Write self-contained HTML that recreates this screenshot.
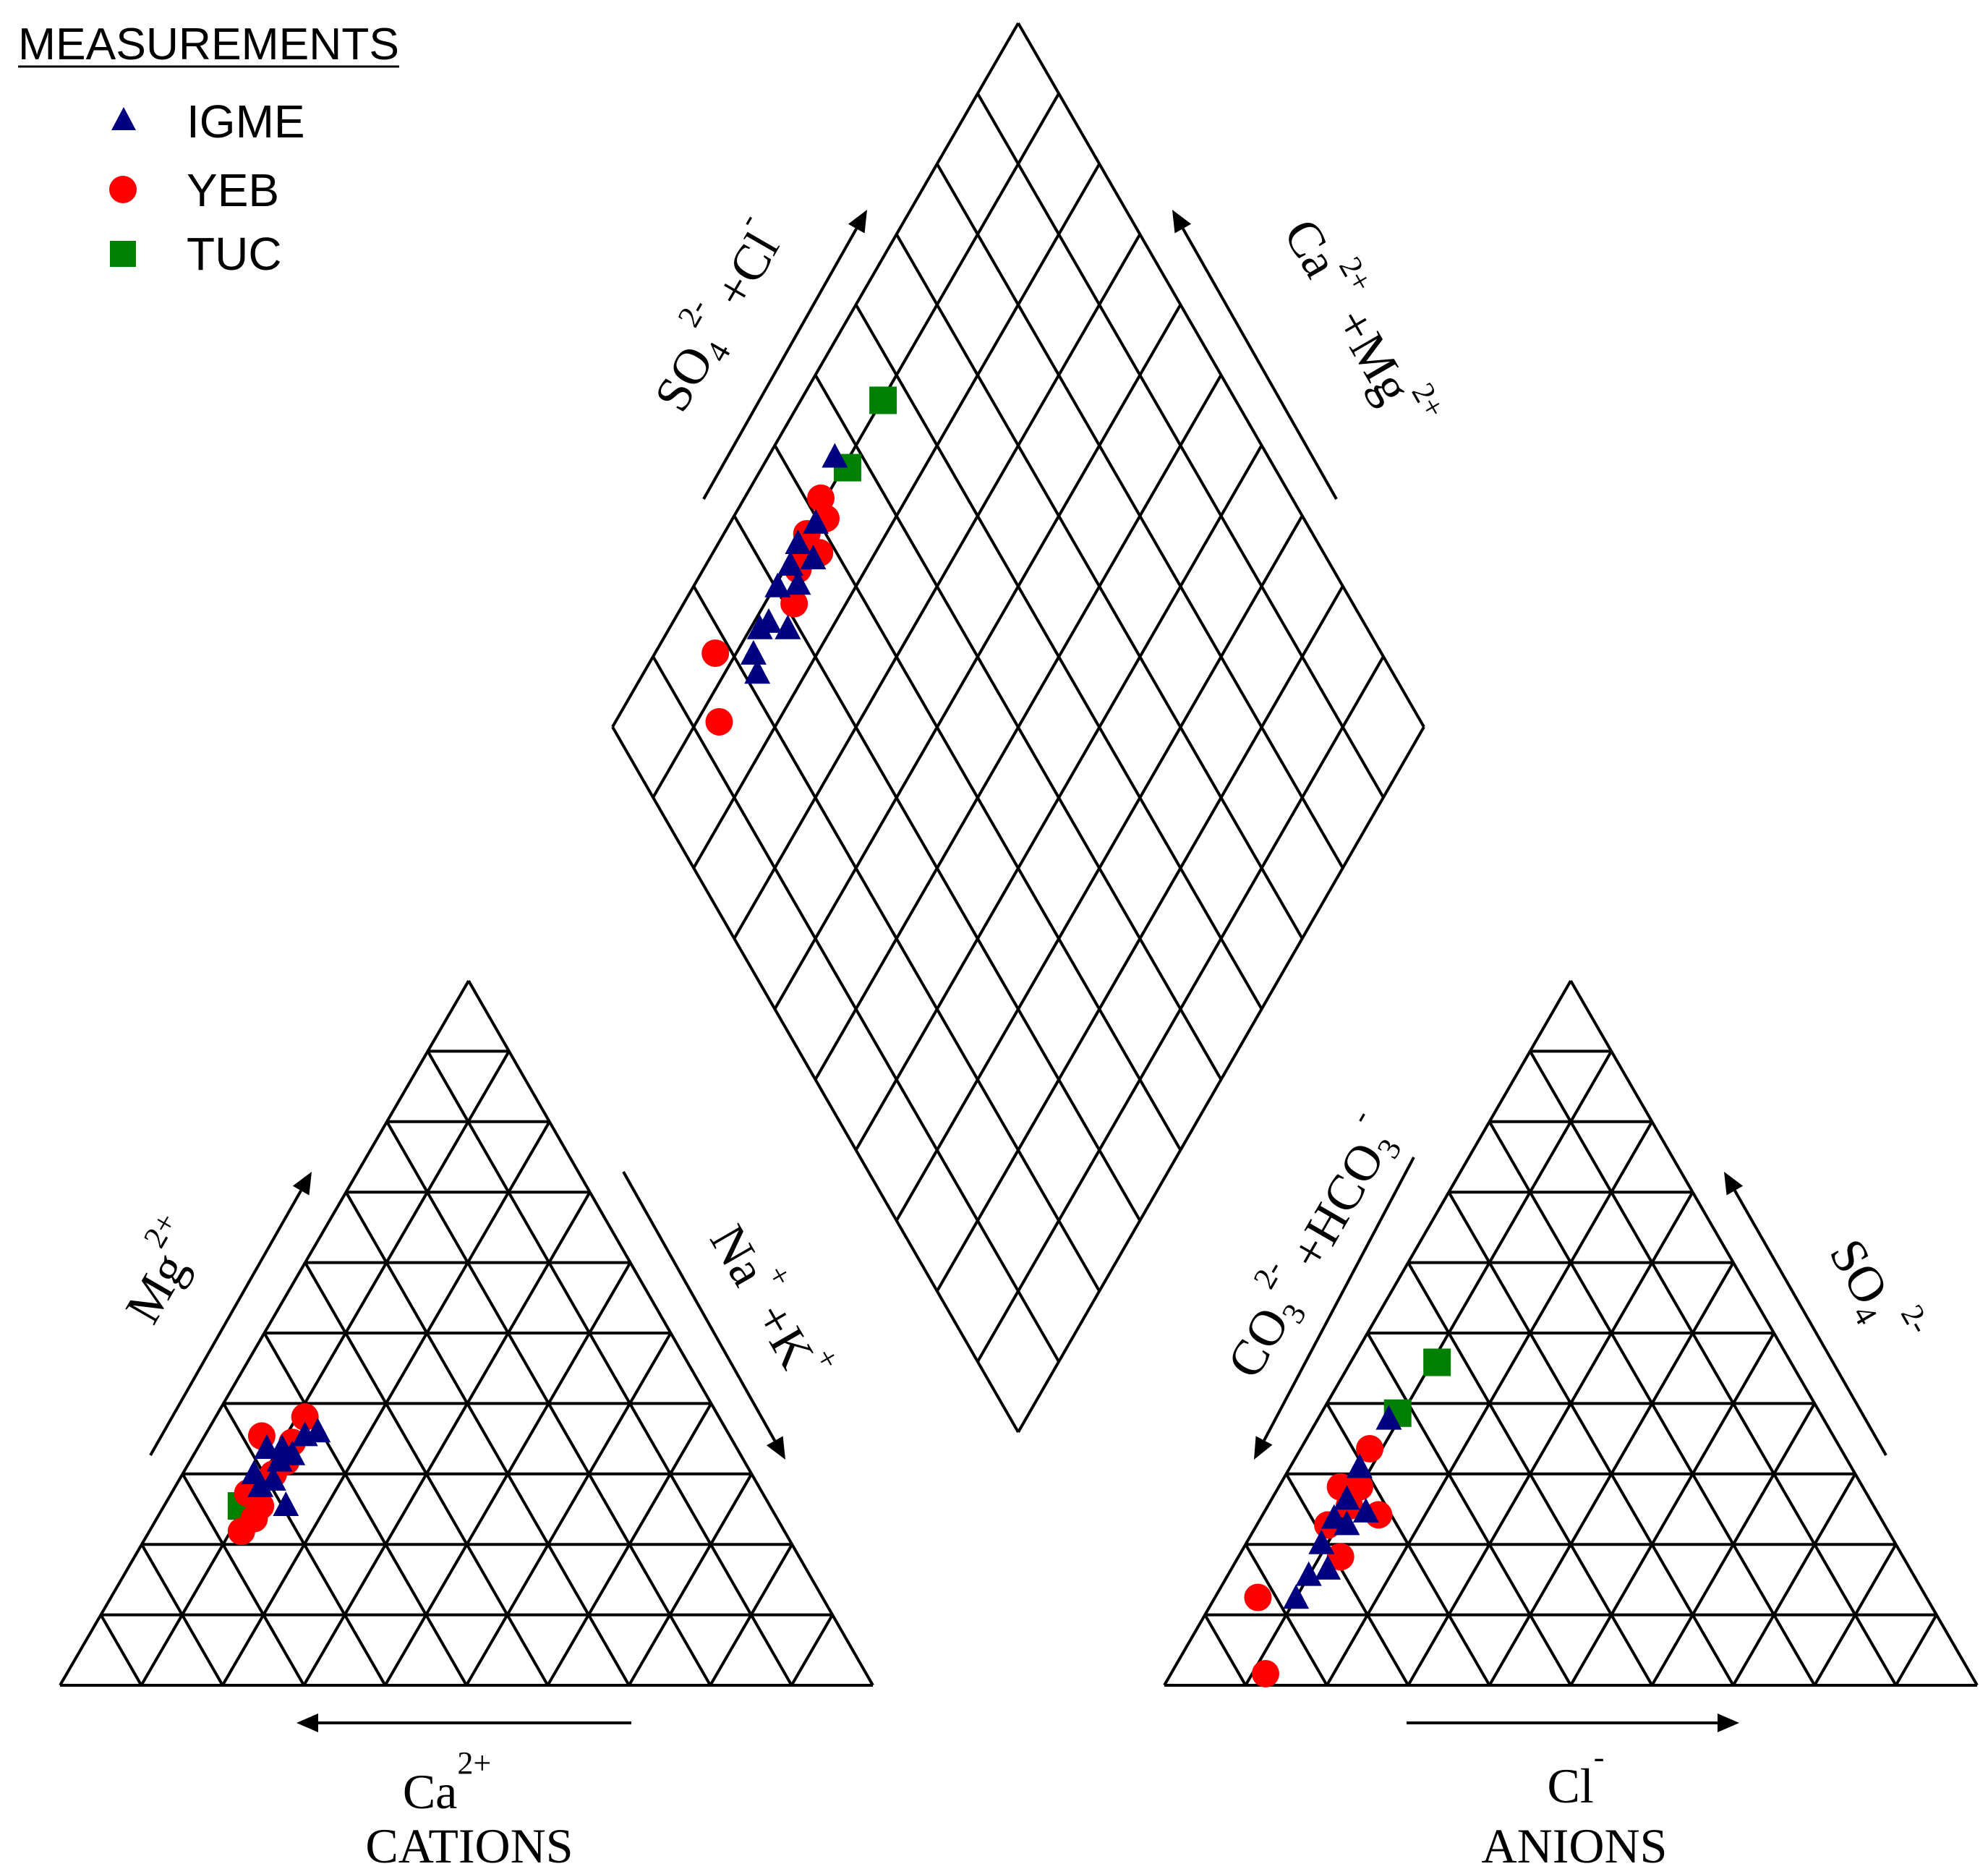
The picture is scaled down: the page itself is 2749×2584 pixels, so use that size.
<!DOCTYPE html>
<html><head><meta charset="utf-8"><style>
html,body{margin:0;padding:0;background:#fff;}
svg{display:block;}
text{font-family:"Liberation Serif",serif;fill:#000;}
.sans{font-family:"Liberation Sans",sans-serif;}
</style></head><body>
<svg id="s" width="2749" height="2584" viewBox="0 0 2749 2584" xmlns="http://www.w3.org/2000/svg">
<g id="grid" stroke="#000" stroke-width="4" fill="none" stroke-linejoin="miter"></g>
<g id="arrows" stroke="#000" stroke-width="4" fill="#000"></g>
<g id="pts"></g>

<!-- Legend -->
<text class="sans" x="25" y="82" font-size="62" textLength="527" lengthAdjust="spacingAndGlyphs">MEASUREMENTS</text>
<line x1="25" y1="92" x2="552" y2="92" stroke="#000" stroke-width="3"/>
<polygon points="171,148 154,180 188,180" fill="#000080"/>
<text class="sans" x="258" y="190" font-size="64">IGME</text>
<circle cx="170" cy="262" r="19" fill="#ff0000"/>
<text class="sans" x="258" y="285" font-size="64">YEB</text>
<rect x="152" y="333" width="36" height="36" fill="#008000"/>
<text class="sans" x="258" y="373" font-size="64">TUC</text>

<!-- Labels -->
<g transform="translate(248,1772) rotate(-60)"><text font-size="70" text-anchor="middle">Mg<tspan dy="-44" font-size="44">2+</tspan></text></g>
<g transform="translate(1040,1815) rotate(60)"><text font-size="70" text-anchor="middle">Na<tspan dy="-44" font-size="44">+</tspan><tspan dy="44"> +K</tspan><tspan dy="-44" font-size="44">+</tspan></text></g>
<text x="618" y="2500" font-size="68" text-anchor="middle">Ca<tspan dy="-48" font-size="44">2+</tspan></text>
<text x="649" y="2575" font-size="68" text-anchor="middle">CATIONS</text>

<g transform="translate(1015,450) rotate(-60)"><text font-size="70" text-anchor="middle">SO<tspan dy="14" font-size="44">4</tspan><tspan dy="-58" font-size="44">2-</tspan><tspan dy="44"> +Cl</tspan><tspan dy="-44" font-size="44">-</tspan></text></g>
<g transform="translate(1855,462) rotate(60)"><text font-size="70" text-anchor="middle">Ca<tspan dy="-44" font-size="44">2+</tspan><tspan dy="44"> +Mg</tspan><tspan dy="-44" font-size="44">2+</tspan></text></g>

<g transform="translate(1835,1738) rotate(-60)"><text font-size="70" text-anchor="middle">CO<tspan dy="14" font-size="44">3</tspan><tspan dy="-58" font-size="44">2-</tspan><tspan dy="44"> +HCO</tspan><tspan dy="14" font-size="44">3</tspan><tspan dy="-58" font-size="44">-</tspan></text></g>
<g transform="translate(2568,1800) rotate(60)"><text font-size="70" text-anchor="middle">SO<tspan dy="14" font-size="44">4</tspan><tspan dy="-58" font-size="44"> 2-</tspan></text></g>
<text x="2179" y="2492" font-size="68" text-anchor="middle">Cl<tspan dy="-48" font-size="44">-</tspan></text>
<text x="2177" y="2575" font-size="68" text-anchor="middle">ANIONS</text>
</svg>
<script>
(function(){
var NS="http://www.w3.org/2000/svg";
var g=document.getElementById('grid'),ga=document.getElementById('arrows'),gp=document.getElementById('pts');
function L(p,q,par){var e=document.createElementNS(NS,'line');e.setAttribute('x1',p[0]);e.setAttribute('y1',p[1]);e.setAttribute('x2',q[0]);e.setAttribute('y2',q[1]);(par||g).appendChild(e);}
function lerp(a,b,t){return [a[0]+(b[0]-a[0])*t,a[1]+(b[1]-a[1])*t];}
function tri(A,B,C){L(A,B);L(B,C);L(C,A);
 for(var i=1;i<10;i++){var t=i/10;
  L(lerp(A,C,t),lerp(B,C,t));
  L(lerp(A,B,t),lerp(B,C,1-t));
  L(lerp(A,B,t),lerp(A,C,t));}}
tri([83,2330],[1207,2330],[648,1356]);
tri([1610,2330],[2734,2330],[2172,1356]);
var T=[1408,32],Lf=[847,1005],R=[1969,1005],Bt=[1408,1980];
L(T,Lf);L(Lf,Bt);L(Bt,R);L(R,T);
for(var i=1;i<10;i++){var t=i/10;
 L(lerp(T,R,t),lerp(Lf,Bt,t));
 L(lerp(T,Lf,t),lerp(R,Bt,t));}
function arrow(p,q){var dx=q[0]-p[0],dy=q[1]-p[1],l=Math.hypot(dx,dy),ux=dx/l,uy=dy/l;
 var h=30,w=13,b=[q[0]-ux*h,q[1]-uy*h];
 L(p,b,ga);
 var e=document.createElementNS(NS,'polygon');
 e.setAttribute('points',q[0]+','+q[1]+' '+(b[0]-uy*w)+','+(b[1]+ux*w)+' '+(b[0]+uy*w)+','+(b[1]-ux*w));
 e.setAttribute('stroke','none');ga.appendChild(e);}
arrow([208,2012],[431,1620]);
arrow([862,1620],[1086,2018]);
arrow([873,2382],[410,2382]);
arrow([1955,1600],[1734,2018]);
arrow([2608,2012],[2384,1620]);
arrow([1945,2382],[2405,2382]);
arrow([973,690],[1199,290]);
arrow([1848,690],[1621,290]);
var S=1.757;
function circ(x,y){var e=document.createElementNS(NS,'circle');e.setAttribute('cx',x*S);e.setAttribute('cy',y*S);e.setAttribute('r',19);e.setAttribute('fill','#ff0000');gp.appendChild(e);}
function trg(x,y){var cx=x*S,cy=y*S,e=document.createElementNS(NS,'polygon');e.setAttribute('points',cx+','+(cy-20)+' '+(cx-18)+','+(cy+14)+' '+(cx+18)+','+(cy+14));e.setAttribute('fill','#000080');gp.appendChild(e);}
function sq(x,y){var e=document.createElementNS(NS,'rect');e.setAttribute('x',x*S-19);e.setAttribute('y',y*S-19);e.setAttribute('width',38);e.setAttribute('height',38);e.setAttribute('fill','#008000');gp.appendChild(e);}
sq(190,1185);
[[240,1115],[206,1130],[190,1205],[200,1195],[195,1175],[230,1135],[215,1160],[225,1150],[205,1185]].forEach(function(p){circ(p[0],p[1]);});
[[250,1127],[240,1130],[210,1140],[220,1150],[200,1160],[230,1145],[215,1165],[225,1185],[205,1170],[222,1140]].forEach(function(p){trg(p[0],p[1]);});
[[646,392],[650,408],[635,420],[645,435],[625,475],[563,514],[566,568],[628,448],[632,440]].forEach(function(p){circ(p[0],p[1]);});
sq(695,315);sq(667,368);
[[657,360],[642,412],[628,428],[640,440],[612,462],[628,460],[622,445],[605,490],[620,495],[598,495],[593,515],[596,530]].forEach(function(p){trg(p[0],p[1]);});
[[1078,1140],[1055,1170],[1070,1170],[1085,1192],[1045,1200],[1055,1225],[990,1257],[996,1317],[1062,1185]].forEach(function(p){circ(p[0],p[1]);});
sq(1131,1072);sq(1100,1112);
[[1093,1117],[1070,1155],[1060,1180],[1075,1190],[1050,1195],[1040,1215],[1045,1235],[1030,1240],[1020,1258],[1060,1200]].forEach(function(p){trg(p[0],p[1]);});
})();
</script>
</body></html>
